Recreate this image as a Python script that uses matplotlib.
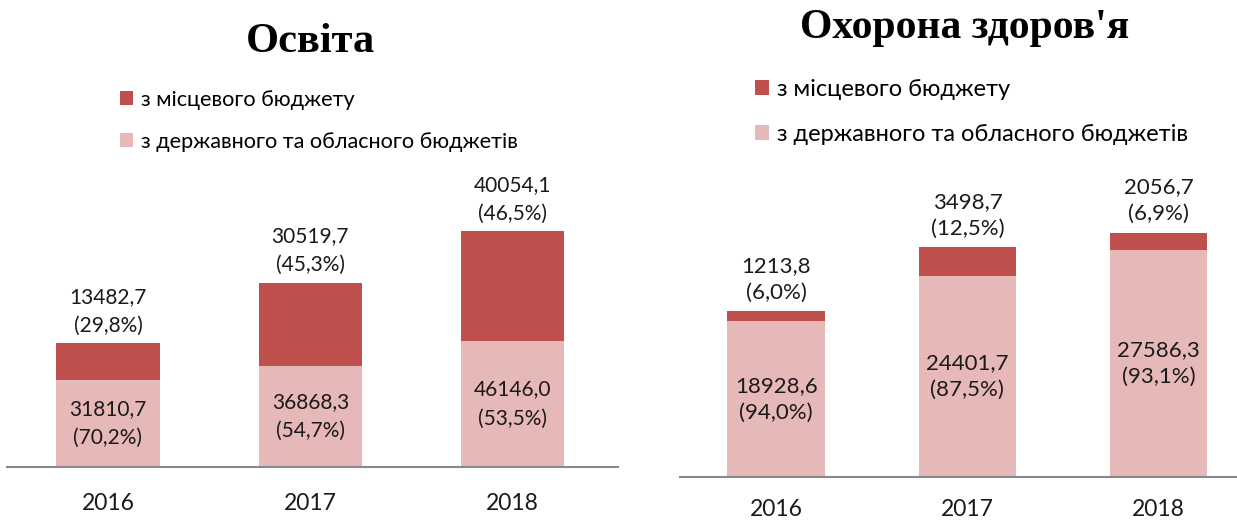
import numpy as np
import matplotlib.pyplot as plt

years = ['2016', '2017', '2018']

edu_local = [13482.7, 30519.7, 40054.1]
edu_state = [31810.7, 36868.3, 46146.0]
edu_local_pct = [29.8, 45.3, 46.5]
edu_state_pct = [70.2, 54.7, 53.5]

health_local = [1213.8, 3498.7, 2056.7]
health_state = [18928.6, 24401.7, 27586.3]
health_local_pct = [6.0, 12.5, 6.9]
health_state_pct = [94.0, 87.5, 93.1]

legend_labels = ['з місцевого бюджету', 'з державного та обласного бюджетів']

DARK = '#C0504D'
LIGHT = '#E6B8B7'
SANS = ['Lato', 'DejaVu Sans']
W, H = 1237, 520


def fmt(v, pct):
    return '{:.1f}'.format(v).replace('.', ',') + '\n(' + '{:.1f}%)'.format(pct).replace('.', ',')


def panel(fig, box, xlim, ylim, state, local, state_pct, local_pct, leg_xy,
          tick_pad, lab_size, lab_ls, leg_size, tick_size):
    l, b, r, t = box
    ax = fig.add_axes([l / W, 1 - b / H, (r - l) / W, (b - t) / H])
    x = np.arange(len(years))
    b1 = ax.bar(x, state, 0.51, color=LIGHT)
    b2 = ax.bar(x, local, 0.51, bottom=state, color=DARK)
    ax.set_xlim(*xlim)
    ax.set_ylim(0, ylim)
    for i in range(len(years)):
        ax.text(x[i], state[i] / 2, fmt(state[i], state_pct[i]), ha='center', va='center',
                fontsize=lab_size, family=SANS, linespacing=lab_ls, color='#1a1a1a')
        ax.annotate(fmt(local[i], local_pct[i]), (x[i], state[i] + local[i]),
                    xytext=(0, 23), textcoords='offset points', ha='center', va='center',
                    fontsize=lab_size, family=SANS, linespacing=lab_ls, color='#1a1a1a')
    for s in ['top', 'left', 'right']:
        ax.spines[s].set_visible(False)
    ax.spines['bottom'].set_color('#898989')
    ax.spines['bottom'].set_linewidth(1.5)
    ax.set_yticks([])
    ax.set_xticks(x)
    ax.set_xticklabels(years, fontsize=tick_size, family=SANS, color='#1a1a1a')
    ax.tick_params(axis='x', length=0, pad=tick_pad)
    ax.legend([b2, b1], legend_labels, loc='upper left',
              bbox_to_anchor=(leg_xy[0] / W, 1 - leg_xy[1] / H), bbox_transform=fig.transFigure,
              frameon=False, borderpad=0, borderaxespad=0, handlelength=0.6, handleheight=0.6,
              handletextpad=0.35, labelspacing=1.0, prop={'family': SANS, 'size': leg_size})
    return ax


fig = plt.figure(figsize=(W / 100, H / 100), dpi=100)

panel(fig, (7, 467, 618, 180), (-0.499, 2.52), 287 / 0.002735,
      edu_state, edu_local, edu_state_pct, edu_local_pct, (120, 90), 19,
      15, 1.56, 15.6, 16.5)
panel(fig, (680, 477, 1237, 180), (-0.503, 2.41), 297 / 0.00824,
      health_state, health_local, health_state_pct, health_local_pct, (755, 79), 15.5,
      16, 1.42, 17, 16.5)

fig.text(310 / W, 1 - 52 / H, 'Освіта', ha='center', va='baseline',
         fontsize=30.5, fontweight='bold', family='Liberation Serif')
fig.text(965 / W, 1 - 38 / H, "Охорона здоров'я", ha='center', va='baseline',
         fontsize=30, fontweight='bold', family='Liberation Serif')

fig.savefig('out.png', dpi=100)
